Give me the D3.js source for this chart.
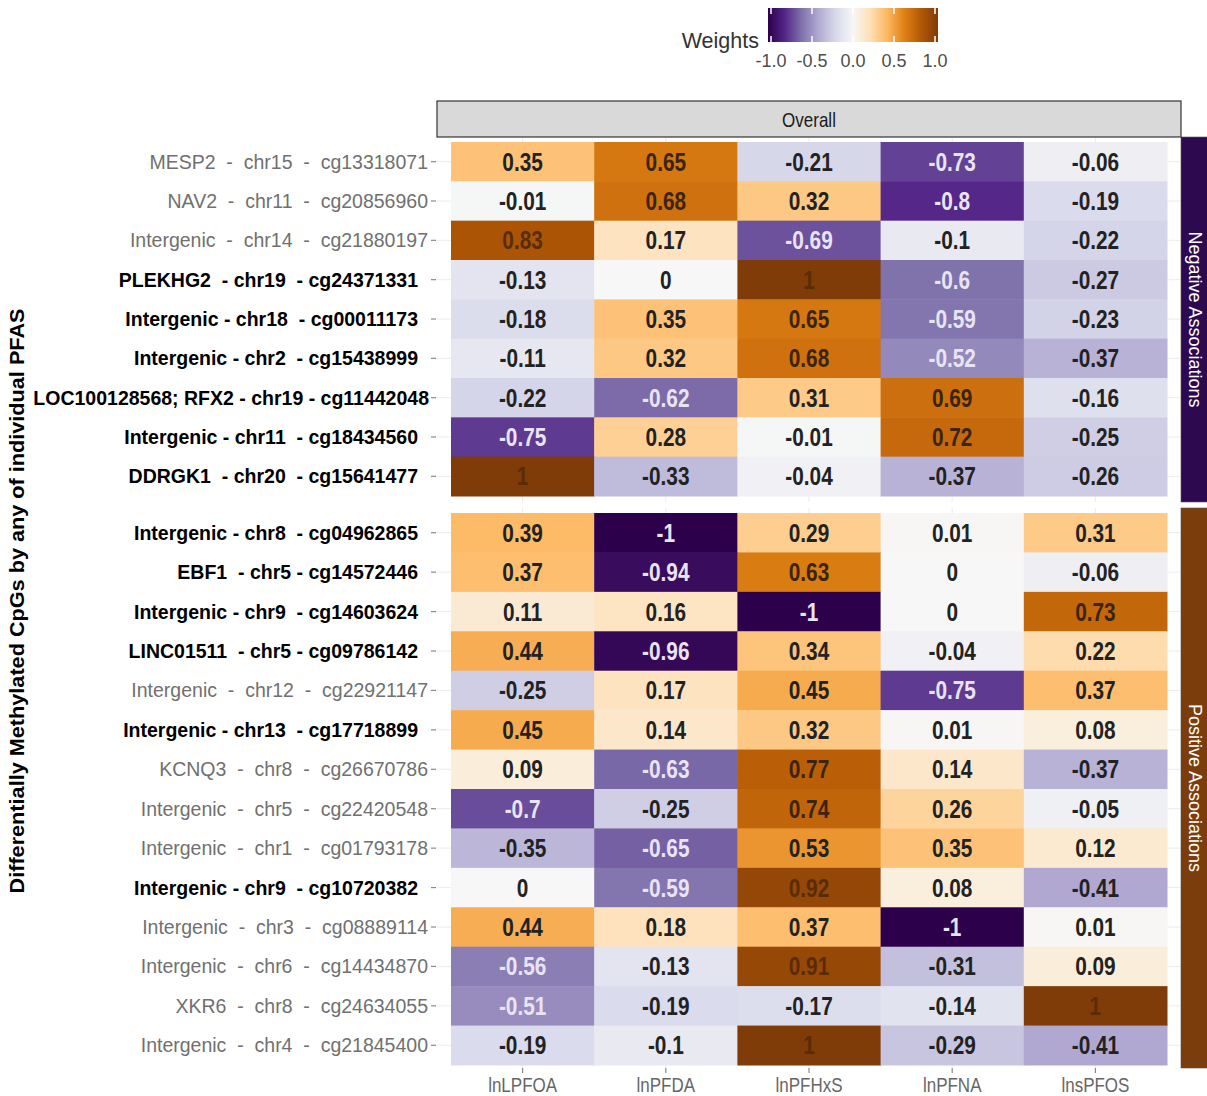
<!DOCTYPE html>
<html>
<head>
<meta charset="utf-8">
<script src="https://cdn.jsdelivr.net/npm/d3@7"></script>
<style>
  body { margin: 0; background: #fff; }
  svg text { font-family: "Liberation Sans", Arial, sans-serif; }
</style>
</head>
<body>
<svg id="chart" width="1207" height="1096"></svg>
<script>
// columns (PFAS exposures)
const pfas = ["lnLPFOA", "lnPFDA", "lnPFHxS", "lnPFNA", "lnsPFOS"];

// Negative associations facet
const negLabels = [
  "MESP2  -  chr15  -  cg13318071",
  "NAV2  -  chr11  -  cg20856960",
  "Intergenic  -  chr14  -  cg21880197",
  "PLEKHG2  - chr19  - cg24371331",
  "Intergenic - chr18  - cg00011173",
  "Intergenic - chr2  - cg15438999",
  "LOC100128568; RFX2 - chr19 - cg11442048",
  "Intergenic - chr11  - cg18434560",
  "DDRGK1  - chr20  - cg15641477"
];
const negMarked = [false, false, false, true, true, true, true, true, true];
const negWeights = [
  [0.35, 0.65, -0.21, -0.73, -0.06],
  [-0.01, 0.68, 0.32, -0.8, -0.19],
  [0.83, 0.17, -0.69, -0.1, -0.22],
  [-0.13, 0, 1, -0.6, -0.27],
  [-0.18, 0.35, 0.65, -0.59, -0.23],
  [-0.11, 0.32, 0.68, -0.52, -0.37],
  [-0.22, -0.62, 0.31, 0.69, -0.16],
  [-0.75, 0.28, -0.01, 0.72, -0.25],
  [1, -0.33, -0.04, -0.37, -0.26]
];

// Positive associations facet
const posLabels = [
  "Intergenic - chr8  - cg04962865",
  "EBF1  - chr5 - cg14572446",
  "Intergenic - chr9  - cg14603624",
  "LINC01511  - chr5 - cg09786142",
  "Intergenic  -  chr12  -  cg22921147",
  "Intergenic - chr13  - cg17718899",
  "KCNQ3  -  chr8  -  cg26670786",
  "Intergenic  -  chr5  -  cg22420548",
  "Intergenic  -  chr1  -  cg01793178",
  "Intergenic - chr9  - cg10720382",
  "Intergenic  -  chr3  -  cg08889114",
  "Intergenic  -  chr6  -  cg14434870",
  "XKR6  -  chr8  -  cg24634055",
  "Intergenic  -  chr4  -  cg21845400"
];
const posMarked = [true, true, true, true, false, true, false, false, false, true, false, false, false, false];
const posWeights = [
  [0.39, -1, 0.29, 0.01, 0.31],
  [0.37, -0.94, 0.63, 0, -0.06],
  [0.11, 0.16, -1, 0, 0.73],
  [0.44, -0.96, 0.34, -0.04, 0.22],
  [-0.25, 0.17, 0.45, -0.75, 0.37],
  [0.45, 0.14, 0.32, 0.01, 0.08],
  [0.09, -0.63, 0.77, 0.14, -0.37],
  [-0.7, -0.25, 0.74, 0.26, -0.05],
  [-0.35, -0.65, 0.53, 0.35, 0.12],
  [0, -0.59, 0.92, 0.08, -0.41],
  [0.44, 0.18, 0.37, -1, 0.01],
  [-0.56, -0.13, 0.91, -0.31, 0.09],
  [-0.51, -0.19, -0.17, -0.14, 1],
  [-0.19, -0.1, 1, -0.29, -0.41]
];

const legendTicks = [-1, -0.5, 0, 0.5, 1];
const palette = ["#2d004b", "#542788", "#8073ac", "#b2abd2", "#d8daeb", "#f7f7f7",
                 "#fee0b6", "#fdb863", "#e08214", "#b35806", "#7f3b08"];

const svg = d3.select("#chart");

const color = d3.scaleLinear()
    .domain(d3.range(palette.length).map(i => -1 + 2 * i / (palette.length - 1)))
    .range(palette);

function textColor(v) {
  if (v <= -0.5) return "#e9e4f3";
  if (v >= 0.8) return "#5a2c06";
  if (v >= 0.6) return "#3b2410";
  return "#222222";
}

const panelX0 = 437, panelX1 = 1181;
const x = d3.scaleBand().domain(pfas).range([451, 1167]);

const facets = [
  {name: "Negative Associations", labels: negLabels, marked: negMarked, weights: negWeights,
   box: [137, 502], cells: [142, 496], fill: "#2d0a4f"},
  {name: "Positive Associations", labels: posLabels, marked: posMarked, weights: posWeights,
   box: [508, 1068], cells: [513, 1065], fill: "#7b3d0b"}
];

facets.forEach(function (f) {
  const y = d3.scaleBand().domain(f.labels).range(f.cells);
  const g = svg.append("g");

  // faint grid
  g.selectAll("line.gy").data(f.labels).enter().append("line")
      .attr("x1", panelX0).attr("x2", panelX1)
      .attr("y1", d => y(d) + y.bandwidth() / 2).attr("y2", d => y(d) + y.bandwidth() / 2)
      .attr("stroke", "#ececec").attr("stroke-width", 1);
  g.selectAll("line.gx").data(pfas).enter().append("line")
      .attr("y1", f.box[0]).attr("y2", f.box[1])
      .attr("x1", d => x(d) + x.bandwidth() / 2).attr("x2", d => x(d) + x.bandwidth() / 2)
      .attr("stroke", "#ececec").attr("stroke-width", 1);

  const cells = [];
  f.weights.forEach(function (row, i) {
    row.forEach(function (v, j) {
      cells.push({row: f.labels[i], col: pfas[j], v: v});
    });
  });

  g.selectAll("rect.cell").data(cells).enter().append("rect")
      .attr("x", d => x(d.col)).attr("y", d => y(d.row))
      .attr("width", x.bandwidth() + 0.5).attr("height", y.bandwidth() + 0.5)
      .attr("fill", d => color(d.v));

  g.selectAll("text.val").data(cells).enter().append("text")
      .attr("transform", d => "translate(" + (x(d.col) + x.bandwidth() / 2) + "," +
            (y(d.row) + y.bandwidth() / 2 + 9) + ") scale(0.8,1)")
      .attr("text-anchor", "middle")
      .style("font-size", "26px").style("font-weight", "bold")
      .attr("fill", d => textColor(d.v))
      .text(d => String(d.v));

  // y axis labels and ticks
  g.selectAll("line.tick").data(f.labels).enter().append("line")
      .attr("x1", 431).attr("x2", 436)
      .attr("y1", d => y(d) + y.bandwidth() / 2).attr("y2", d => y(d) + y.bandwidth() / 2)
      .attr("stroke", "#8a8a8a").attr("stroke-width", 1.2);
  g.selectAll("text.lab").data(f.labels).enter().append("text")
      .attr("x", (d, i) => f.marked[i] ? 418 : 428)
      .attr("y", d => y(d) + y.bandwidth() / 2 + 7)
      .attr("text-anchor", "end")
      .style("white-space", "pre")
      .style("font-size", "19.5px")
      .style("font-weight", (d, i) => f.marked[i] ? "bold" : "normal")
      .attr("fill", (d, i) => f.marked[i] ? "#000" : "#707070")
      .text(d => d)
      .each(function (d, i) {
        // keep long bold labels clear of the axis title
        if (!f.marked[i]) return;
        const w = this.getComputedTextLength();
        if (418 - w < 34) d3.select(this).attr("x", Math.min(429, 34 + w));
      });

  // right facet strip
  svg.append("rect")
      .attr("x", panelX1).attr("y", f.box[0])
      .attr("width", 40).attr("height", f.box[1] - f.box[0])
      .attr("fill", f.fill).attr("stroke", "#555").attr("stroke-width", 0.6);
  const cy = (f.box[0] + f.box[1]) / 2;
  svg.append("text")
      .attr("transform", "translate(1189," + cy + ") rotate(90)")
      .attr("text-anchor", "middle")
      .style("font-size", "18px")
      .attr("fill", "#ffffff")
      .text(f.name);
});

// top strip
svg.append("rect")
    .attr("x", panelX0).attr("y", 101).attr("width", panelX1 - panelX0).attr("height", 36)
    .attr("fill", "#d9d9d9").attr("stroke", "#333").attr("stroke-width", 1.2);
svg.append("text")
    .attr("transform", "translate(" + (panelX0 + panelX1) / 2 + ",127) scale(0.85,1)")
    .attr("text-anchor", "middle")
    .style("font-size", "20px").attr("fill", "#1a1a1a")
    .text("Overall");

// x axis
const xAxis = svg.append("g");
xAxis.selectAll("line").data(pfas).enter().append("line")
    .attr("x1", d => x(d) + x.bandwidth() / 2).attr("x2", d => x(d) + x.bandwidth() / 2)
    .attr("y1", 1068).attr("y2", 1073)
    .attr("stroke", "#8a8a8a").attr("stroke-width", 1.2);
xAxis.selectAll("text").data(pfas).enter().append("text")
    .attr("transform", d => "translate(" + (x(d) + x.bandwidth() / 2) + ",1092) scale(0.85,1)")
    .attr("text-anchor", "middle")
    .style("font-size", "20px").attr("fill", "#666")
    .text(d => d);

// y axis title
svg.append("text")
    .attr("transform", "translate(24,601) rotate(-90)")
    .attr("text-anchor", "middle")
    .style("font-size", "20px").style("font-weight", "bold")
    .attr("textLength", 585).attr("lengthAdjust", "spacingAndGlyphs")
    .attr("fill", "#000")
    .text("Differentially Methylated CpGs by any of individual PFAS");

// legend
const lx = d3.scaleLinear().domain([-1, 1]).range([771, 935]);
const defs = svg.append("defs");
const grad = defs.append("linearGradient").attr("id", "wgrad")
    .attr("x1", "0%").attr("x2", "100%").attr("y1", "0%").attr("y2", "0%");
palette.forEach(function (c, i) {
  grad.append("stop").attr("offset", (100 * i / (palette.length - 1)) + "%").attr("stop-color", c);
});
svg.append("rect")
    .attr("x", 768).attr("y", 8).attr("width", 170).attr("height", 34)
    .attr("fill", "url(#wgrad)");
const lt = svg.append("g");
lt.selectAll("line.t1").data(legendTicks).enter().append("line")
    .attr("x1", d => lx(d)).attr("x2", d => lx(d)).attr("y1", 8).attr("y2", 14)
    .attr("stroke", "#fff").attr("stroke-width", 1.5);
lt.selectAll("line.t2").data(legendTicks).enter().append("line")
    .attr("x1", d => lx(d)).attr("x2", d => lx(d)).attr("y1", 36).attr("y2", 42)
    .attr("stroke", "#fff").attr("stroke-width", 1.5);
lt.selectAll("text").data(legendTicks).enter().append("text")
    .attr("x", d => lx(d)).attr("y", 67)
    .attr("text-anchor", "middle")
    .style("font-size", "18px").attr("fill", "#4d4d4d")
    .text(d => d3.format(".1f")(d).replace("\u2212", "-"));
svg.append("text")
    .attr("x", 759).attr("y", 48).attr("text-anchor", "end")
    .style("font-size", "21.5px").attr("fill", "#333")
    .text("Weights");
</script>
</body>
</html>
